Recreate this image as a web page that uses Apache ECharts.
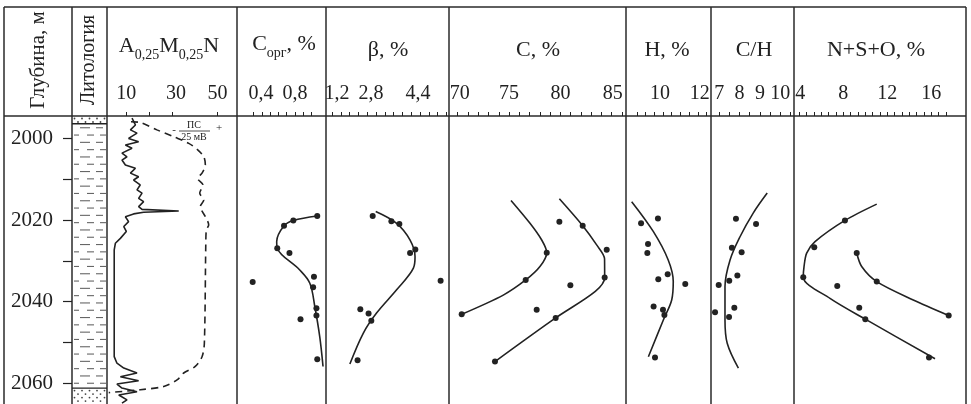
<!DOCTYPE html>
<html>
<head>
<meta charset="utf-8">
<script src="https://cdn.jsdelivr.net/npm/echarts@6/dist/echarts.min.js"></script>
<style>
html, body { margin: 0; padding: 0; background: #fff; }
#chart { width: 971px; height: 404px; }
</style>
</head>
<body>
<div id="chart"></div>
<script>
// depth range of the log (m)
var depthMin = 1994.5, depthMax = 2065.1;
var depthTicks = [2000, 2010, 2020, 2030, 2040, 2050, 2060];
var depthLabels = [2000, 2020, 2040, 2060];

// lithology intervals
var litTop = [1994.5, 1996.4, 2061.2];
var litBottom = [1996.4, 2061.2, 2065.1];
var litKind = ['sand', 'clay', 'sand'];

// A0,25M0,25N resistivity
var resDepth = [1995.0, 1996.7, 1997.9, 1998.7, 2000.0, 2000.8, 2001.6, 2002.4, 2003.6, 2004.5, 2005.3, 2006.5, 2007.3, 2008.5, 2009.4, 2010.2, 2011.4, 2012.6, 2013.4, 2014.7, 2015.5, 2016.7, 2017.4, 2017.8, 2018.1, 2018.5, 2019.2, 2020.4, 2021.6, 2022.8, 2024.5, 2025.7, 2027.3, 2053.5, 2055.1, 2056.3, 2057.5, 2058.4, 2059.4, 2060.2, 2061.2, 2062.1, 2062.9, 2064.1, 2064.9];
var resValue = [12.5, 14.0, 11.8, 14.7, 11.0, 15.4, 9.6, 12.5, 8.1, 10.3, 8.1, 9.6, 14.0, 11.8, 15.4, 13.2, 16.1, 14.7, 16.9, 15.4, 17.6, 15.4, 16.9, 33.0, 17.6, 13.2, 9.6, 11.0, 8.9, 10.0, 7.4, 5.2, 4.7, 4.7, 5.9, 8.9, 14.7, 7.4, 15.4, 5.9, 8.1, 14.7, 6.7, 10.3, 8.1];
var resTicks = [10, 20, 30, 50];
var resLabels = [10, 30, 50];

// ПС (SP), mV
var spDepth = [1995.9, 1996.1, 1997.9, 1999.6, 2001.2, 2002.8, 2004.5, 2006.5, 2008.5, 2009.8, 2011.4, 2013.4, 2015.1, 2016.7, 2019.2, 2021.2, 2022.4, 2025.7, 2050.2, 2053.5, 2055.9, 2057.5, 2059.2, 2060.8, 2061.6, 2062.3];
var spValue = [-73.4, -66.9, -55.4, -43.8, -33.4, -27.2, -23.0, -21.9, -24.2, -27.2, -23.5, -25.8, -23.0, -25.4, -21.9, -19.6, -21.2, -21.6, -22.6, -24.2, -28.9, -36.9, -41.5, -50.7, -66.9, -88.8];

// Сорг, %
var corgDepth = [2019.0, 2020.1, 2021.4, 2026.9, 2028.1, 2033.9, 2035.2, 2036.5, 2041.6, 2043.4, 2044.3, 2054.1];
var corgValue = [1.07, 0.78, 0.667, 0.585, 0.733, 1.03, 0.287, 1.02, 1.06, 1.06, 0.867, 1.07];
var corgLineDepth = [2019.0, 2020.1, 2021.4, 2025.3, 2026.9, 2032.2, 2035.5, 2041.2, 2048.6, 2055.9];
var corgLineValue = [1.07, 0.78, 0.667, 0.578, 0.585, 0.855, 0.98, 1.04, 1.10, 1.14];
var corgTicks = [0.3, 0.4, 0.5, 0.6, 0.7, 0.8, 0.9, 1.0];
var corgLabels = [0.4, 0.8];

// β, %
var betaDepth = [2019.0, 2020.3, 2021.0, 2027.2, 2028.1, 2034.9, 2041.9, 2042.9, 2044.7, 2054.4];
var betaValue = [2.68, 3.36, 3.65, 4.23, 4.04, 5.15, 2.23, 2.53, 2.63, 2.13];
var betaLineDepth = [2017.9, 2020.8, 2024.9, 2029.0, 2031.8, 2037.1, 2042.8, 2047.7, 2055.3];
var betaLineValue = [2.79, 3.55, 4.04, 4.22, 4.16, 3.55, 2.82, 2.34, 1.85];
var betaTicks = [1.2, 1.52, 1.84, 2.16, 2.48, 2.8, 3.12, 3.44, 3.76, 4.08, 4.4, 4.72, 5.04, 5.36];
var betaLabels = [1.2, 2.8, 4.4];

// C, %
var cDepth = [2020.4, 2021.4, 2027.3, 2028.0, 2034.1, 2034.7, 2036.0, 2042.0, 2043.1, 2044.0, 2054.7];
var cValue = [79.9, 82.17, 84.51, 78.67, 84.31, 76.62, 80.97, 77.69, 70.39, 79.54, 73.63];
var cLine1Depth = [2015.2, 2020.8, 2024.9, 2028.0, 2031.4, 2034.7, 2038.4, 2043.1];
var cLine1Value = [75.19, 77.04, 78.18, 78.67, 78.01, 76.62, 74.44, 70.39];
var cLine2Depth = [2014.8, 2021.4, 2026.1, 2029.5, 2034.1, 2037.5, 2044.0, 2054.7];
var cLine2Value = [79.9, 82.17, 83.53, 84.3, 84.31, 83.4, 79.54, 73.63];
var cTicks = [70, 71, 72, 73, 74, 75, 76, 77, 78, 79, 80, 81, 82, 83, 84, 85, 86];
var cLabels = [70, 75, 80, 85];

// H, %
var hDepth = [2019.6, 2020.8, 2025.9, 2028.1, 2033.3, 2034.5, 2035.7, 2041.2, 2042.0, 2043.3, 2053.7];
var hValue = [9.71, 8.74, 9.14, 9.10, 10.27, 9.73, 11.28, 9.46, 10.0, 10.08, 9.54];
var hLineDepth = [2015.5, 2022.8, 2029.8, 2035.1, 2039.6, 2044.5, 2053.5];
var hLineValue = [8.20, 9.44, 10.30, 10.59, 10.50, 10.02, 9.16];
var hTicks = [8.5, 9, 9.5, 10, 10.5, 11, 11.5, 12, 12.5];
var hLabels = [10, 12];

// C/H
var chDepth = [2019.7, 2021.0, 2026.8, 2027.9, 2033.6, 2034.9, 2035.9, 2041.5, 2042.6, 2043.8];
var chValue = [7.82, 8.81, 7.62, 8.10, 7.89, 7.49, 6.97, 7.74, 6.79, 7.48];
var chLineDepth = [2013.4, 2018.3, 2024.1, 2029.8, 2036.3, 2044.5, 2050.2, 2056.3];
var chLineValue = [9.36, 8.67, 8.02, 7.53, 7.28, 7.28, 7.39, 7.94];
var chTicks = [7, 7.5, 8, 8.5, 9, 9.5, 10, 10.5];
var chLabels = [7, 8, 9, 10];

// N+S+O, %
var nsoDepth = [2020.1, 2026.7, 2028.1, 2034.0, 2035.1, 2036.2, 2041.5, 2043.4, 2044.3, 2053.7];
var nsoValue = [8.15, 5.36, 9.22, 4.36, 11.04, 7.45, 9.45, 17.58, 10.0, 15.79];
var nsoLine1Depth = [2016.1, 2020.1, 2025.3, 2028.1, 2031.4, 2034.0, 2039.2, 2044.3, 2054.0];
var nsoLine1Value = [11.04, 8.15, 5.43, 4.67, 4.43, 4.36, 6.79, 10.0, 16.34];
var nsoLine2Depth = [2028.1, 2031.4, 2035.1, 2039.6, 2043.4];
var nsoLine2Value = [9.22, 9.67, 11.04, 14.36, 17.58];
var nsoTicks = [];
for (var k = 0; k <= 20; k++) nsoTicks.push(+(4 + k * 2 / 3).toFixed(3));
var nsoLabels = [4, 8, 12, 16];

var FONT = 'Liberation Serif';
var INK = '#222';
var colX = [4, 72, 107, 237, 326, 449, 626, 711, 794, 966];
var headTop = 7, headBottom = 116, plotBottom = 404;

function pairs(depths, values) {
    return depths.map(function (d, i) { return [values[i], d]; });
}

var grids = [];
for (var g = 1; g < colX.length - 1; g++) {
    grids.push({ left: colX[g], width: colX[g + 1] - colX[g], top: headBottom, height: plotBottom - headBottom, show: false });
}

// tick labels; shift = {value: px} nudges a label sideways like in the printed figure
function trackX(gi, min, max, ticks, labels, decimal, shift) {
    shift = shift || {};
    return {
        type: 'value', gridIndex: gi, position: 'top', min: min, max: max,
        axisLine: { show: false },
        splitLine: { show: false },
        axisTick: { show: true, length: 4, customValues: ticks, lineStyle: { color: INK, width: 1 } },
        axisLabel: {
            show: true, customValues: labels, margin: 12,
            fontFamily: FONT, fontSize: 20, color: INK,
            formatter: function (v) {
                var s = decimal ? String(v).replace('.', ',') : String(v);
                var dx = shift[v] || 0;
                if (!dx) return s;
                return '{' + (dx > 0 ? 'r' : 'l') + Math.abs(dx) + '|' + s + '}';
            },
            rich: (function () {
                var r = {};
                for (var d = 1; d <= 8; d++) {
                    r['r' + d] = { fontFamily: FONT, fontSize: 20, color: INK, padding: [0, 0, 0, d * 2] };
                    r['l' + d] = { fontFamily: FONT, fontSize: 20, color: INK, padding: [0, d * 2, 0, 0] };
                }
                return r;
            })()
        }
    };
}

var xAxes = [
    { type: 'value', gridIndex: 0, min: 0, max: 1, show: false },
    trackX(1, 1.535, 58.55, resTicks, resLabels, false, { 30: 4 }),
    { type: 'value', gridIndex: 1, min: -90, max: 0, show: false },
    trackX(2, 0.097, 1.176, corgTicks, corgLabels, true, { 0.4: -1 }),
    trackX(3, 0.982, 5.455, betaTicks, betaLabels, true, { 1.2: 5, 2.8: -5, 4.4: -2 }),
    trackX(4, 69.153, 86.388, cTicks, cLabels, false, { 70: 2, 85: 1 }),
    trackX(5, 7.874, 12.759, hTicks, hLabels, false, { 10: -3, 12: 2 }),
    trackX(6, 6.591, 10.68, chTicks, chLabels, false),
    trackX(7, 3.518, 19.155, nsoTicks, nsoLabels, false, { 4: 1 })
];

var yAxes = [];
for (var i = 0; i < grids.length; i++) {
    var ax = { type: 'value', gridIndex: i, inverse: true, min: depthMin, max: depthMax, show: i === 0,
        axisLine: { show: false }, splitLine: { show: false } };
    if (i === 0) {
        ax.position = 'left';
        ax.axisTick = { show: true, length: 9, customValues: depthTicks, lineStyle: { color: INK, width: 1.2 } };
        ax.axisLabel = { customValues: depthLabels, margin: 19, fontFamily: FONT, fontSize: 21, color: INK,
            formatter: function (v) { return String(v); } };
    }
    yAxes.push(ax);
}

function renderLitho(params, api) {
    var top = api.value(0), bottom = api.value(1), kind = api.value(2);
    var p0 = api.coord([0, top]), p1 = api.coord([1, bottom]);
    var x0 = p0[0], x1 = p1[0], y0 = p0[1], y1 = Math.min(p1[1], plotBottom);
    var kids = [];
    var y, row;
    if (kind === 1) {
        var rowA = [[8, 18], [24, 31]], rowB = [[2, 7], [15, 22], [28, 34]];
        for (y = y0 + 4, row = 0; y < y1 - 2; y += 7.3, row++) {
            (row % 2 ? rowB : rowA).forEach(function (s) {
                kids.push({ type: 'line', shape: { x1: x0 + s[0], y1: y, x2: x0 + s[1], y2: y },
                    style: { stroke: '#666', lineWidth: 1.1 } });
            });
        }
    } else {
        for (y = y0 + 2.5, row = 0; y < y1 - 1; y += 3.5, row++) {
            for (var x = x0 + (row % 2 ? 6 : 2.5); x < x1 - 1; x += 7.5) {
                kids.push({ type: 'circle', shape: { cx: x, cy: y, r: 0.9 }, style: { fill: '#444' } });
            }
        }
    }
    if (top > depthMin) {
        kids.push({ type: 'line', shape: { x1: x0, y1: y0, x2: x1, y2: y0 }, style: { stroke: INK, lineWidth: 1.3 } });
    }
    return { type: 'group', children: kids };
}

var litData = litTop.map(function (t, i) {
    return [t, litBottom[i], litKind[i] === 'clay' ? 1 : 0, 0.5];
});

function curve(xi, yi, depths, values, smooth, dashed) {
    return { type: 'line', xAxisIndex: xi, yAxisIndex: yi, data: pairs(depths, values),
        smooth: smooth, symbol: 'none', silent: true, z: 3,
        lineStyle: { color: INK, width: 1.6, type: dashed ? [7, 5] : 'solid' } };
}

function dots(xi, yi, depths, values) {
    return { type: 'scatter', xAxisIndex: xi, yAxisIndex: yi, data: pairs(depths, values),
        symbolSize: 6, z: 4, itemStyle: { color: INK, opacity: 1 } };
}

var series = [
    { type: 'custom', xAxisIndex: 0, yAxisIndex: 0, data: litData, encode: { x: 3, y: [0, 1] },
        renderItem: renderLitho, silent: true },
    curve(1, 1, resDepth, resValue, false),
    curve(2, 1, spDepth, spValue, 0.3, true),
    curve(3, 2, corgLineDepth, corgLineValue, 0.35),
    dots(3, 2, corgDepth, corgValue),
    curve(4, 3, betaLineDepth, betaLineValue, 0.35),
    dots(4, 3, betaDepth, betaValue),
    curve(5, 4, cLine1Depth, cLine1Value, 0.3),
    curve(5, 4, cLine2Depth, cLine2Value, 0.3),
    dots(5, 4, cDepth, cValue),
    curve(6, 5, hLineDepth, hLineValue, 0.35),
    dots(6, 5, hDepth, hValue),
    curve(7, 6, chLineDepth, chLineValue, 0.35),
    dots(7, 6, chDepth, chValue),
    curve(8, 7, nsoLine1Depth, nsoLine1Value, 0.3),
    curve(8, 7, nsoLine2Depth, nsoLine2Value, 0.3),
    dots(8, 7, nsoDepth, nsoValue)
];

// table frame and header
var frame = [];
function hline(x1, x2, y) {
    frame.push({ type: 'line', shape: { x1: x1, y1: y, x2: x2, y2: y }, style: { stroke: '#2a2a2a', lineWidth: 1.5 } });
}
hline(colX[0], colX[colX.length - 1], headTop);
hline(colX[0], colX[colX.length - 1], headBottom);
colX.forEach(function (x) {
    frame.push({ type: 'line', shape: { x1: x, y1: headTop, x2: x, y2: plotBottom }, style: { stroke: '#2a2a2a', lineWidth: 1.5 } });
});

var richHead = {
    m: { fontFamily: FONT, fontSize: 22, fill: INK, lineHeight: 20, padding: [0, 0, 5, 0], verticalAlign: 'bottom' },
    s: { fontFamily: FONT, fontSize: 14, fill: INK, lineHeight: 14, verticalAlign: 'bottom' }
};

function label(x, y, text, size, rot) {
    return { type: 'text', x: x, y: y, rotation: rot || 0,
        style: { text: text, fontFamily: FONT, fontSize: size, fill: INK, align: 'center', verticalAlign: 'middle', rich: richHead } };
}

var titles = [
    label(38, 60, 'Глубина, м', 21, Math.PI / 2),
    label(89, 60, 'Литология', 20, Math.PI / 2),
    label(169, 52, '{m|A}{s|0,25}{m|M}{s|0,25}{m|N}', 22),
    label(284, 50, '{m|С}{s|орг}{m|, %}', 22),
    label(388, 50, 'β, %', 22),
    label(538, 50, 'C, %', 22),
    label(667, 50, 'H, %', 22),
    label(754, 50, 'C/H', 22),
    label(876, 50, 'N+S+O, %', 22),
    // SP scale note
    label(194, 125, 'ПС', 10),
    label(194, 137, '25 мВ', 10),
    label(174, 130, '-', 11),
    label(219, 128, '+', 11),
    { type: 'line', shape: { x1: 179, y1: 131, x2: 210, y2: 131 }, style: { stroke: INK, lineWidth: 0.8 } }
];

var chart = echarts.init(document.getElementById('chart'));
chart.setOption({
    animation: false,
    backgroundColor: '#fff',
    grid: grids,
    xAxis: xAxes,
    yAxis: yAxes,
    series: series,
    graphic: frame.concat(titles)
});
</script>
</body>
</html>
